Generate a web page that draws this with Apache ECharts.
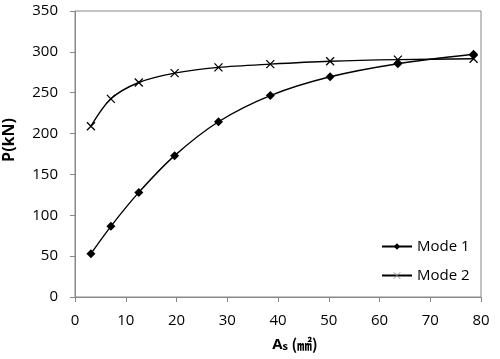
<!DOCTYPE html>
<html><head><meta charset="utf-8">
<script src="https://cdn.jsdelivr.net/npm/echarts@6/dist/echarts.min.js"></script>
<style>html,body{margin:0;padding:0;background:#fff}#c{width:500px;height:359px}</style>
</head><body><div id="c"></div>
<script>
const areas = [3.14, 7.07, 12.57, 19.63, 28.27, 38.48, 50.27, 63.62, 78.54];
const mode1 = [53, 86.5, 128, 173, 214.5, 246.5, 269.5, 285.5, 297];
const mode2 = [209, 242.5, 262.5, 274, 281, 285, 288.5, 290.5, 291.5];
const xTicks = [0, 10, 20, 30, 40, 50, 60, 70, 80];
const yTicks = [0, 50, 100, 150, 200, 250, 300, 350];
const seriesNames = ['Mode 1', 'Mode 2'];

const font = 'Open Sans, Liberation Sans, sans-serif';
const chart = echarts.init(document.getElementById('c'), null, {renderer: 'canvas'});
const xPath = 'path://M0,0L10,10M10,0L0,10';
chart.setOption({
  animation: false,
  grid: {left: 75, right: 19, top: 11, bottom: 62, show: true, borderColor: '#888', borderWidth: 1,
         containLabel: false, outerBoundsMode: 'none'},
  legend: {
    orient: 'vertical', left: 376, top: 234, itemGap: 14, itemWidth: 30, itemHeight: 8,
    textStyle: {fontFamily: font, fontSize: 15, color: '#000'},
    data: [
      {name: seriesNames[0]},
      {name: seriesNames[1], itemStyle: {borderColor: '#888', borderWidth: 1}}
    ]
  },
  xAxis: {
    type: 'value', min: xTicks[0], max: xTicks[xTicks.length - 1], interval: 10,
    axisLine: {show: true, lineStyle: {color: '#888'}},
    axisTick: {show: true, inside: false, length: 5, lineStyle: {color: '#888'}},
    splitLine: {show: false},
    axisLabel: {fontFamily: font, fontSize: 15, color: '#000', margin: 16},
    name: 'A{s|s}{u| (㎟)}', nameLocation: 'middle', nameGap: 40,
    nameTextStyle: {fontFamily: font, fontSize: 15, fontWeight: 'bold', color: '#000',
      padding: [0, 0, 0, 34],
      rich: {s: {fontSize: 11, fontWeight: 'bold', fontFamily: font, verticalAlign: 'bottom', padding: [4,0,0,0]},
             u: {fontSize: 15, fontWeight: 'bold', fontFamily: 'Noto Sans CJK KR, ' + font}}}
  },
  yAxis: {
    type: 'value', min: yTicks[0], max: yTicks[yTicks.length - 1], interval: 50,
    axisLine: {show: true, lineStyle: {color: '#888'}},
    axisTick: {show: true, inside: false, length: 5, lineStyle: {color: '#888'}},
    splitLine: {show: false},
    axisLabel: {fontFamily: font, fontSize: 15, color: '#000', margin: 17},
    name: 'P(kN)', nameLocation: 'middle', nameGap: 58, nameRotate: 90,
    nameTextStyle: {fontFamily: font, fontSize: 16, fontWeight: 'bold', color: '#000', padding: [0, 0, 0, 28]}
  },
  series: [
    {
      name: seriesNames[0], type: 'line', smooth: 0.3,
      data: areas.map((a, i) => [a, mode1[i]]),
      symbol: 'diamond', symbolSize: 9,
      lineStyle: {color: '#000', width: 1.4},
      itemStyle: {color: '#000'}
    },
    {
      name: seriesNames[1], type: 'line', smooth: 0.3,
      data: areas.map((a, i) => [a, mode2[i]]),
      symbol: xPath, symbolSize: 8,
      lineStyle: {color: '#000', width: 1.4},
      itemStyle: {color: 'none', borderColor: '#000', borderWidth: 1.3}
    }
  ]
});
</script></body></html>
